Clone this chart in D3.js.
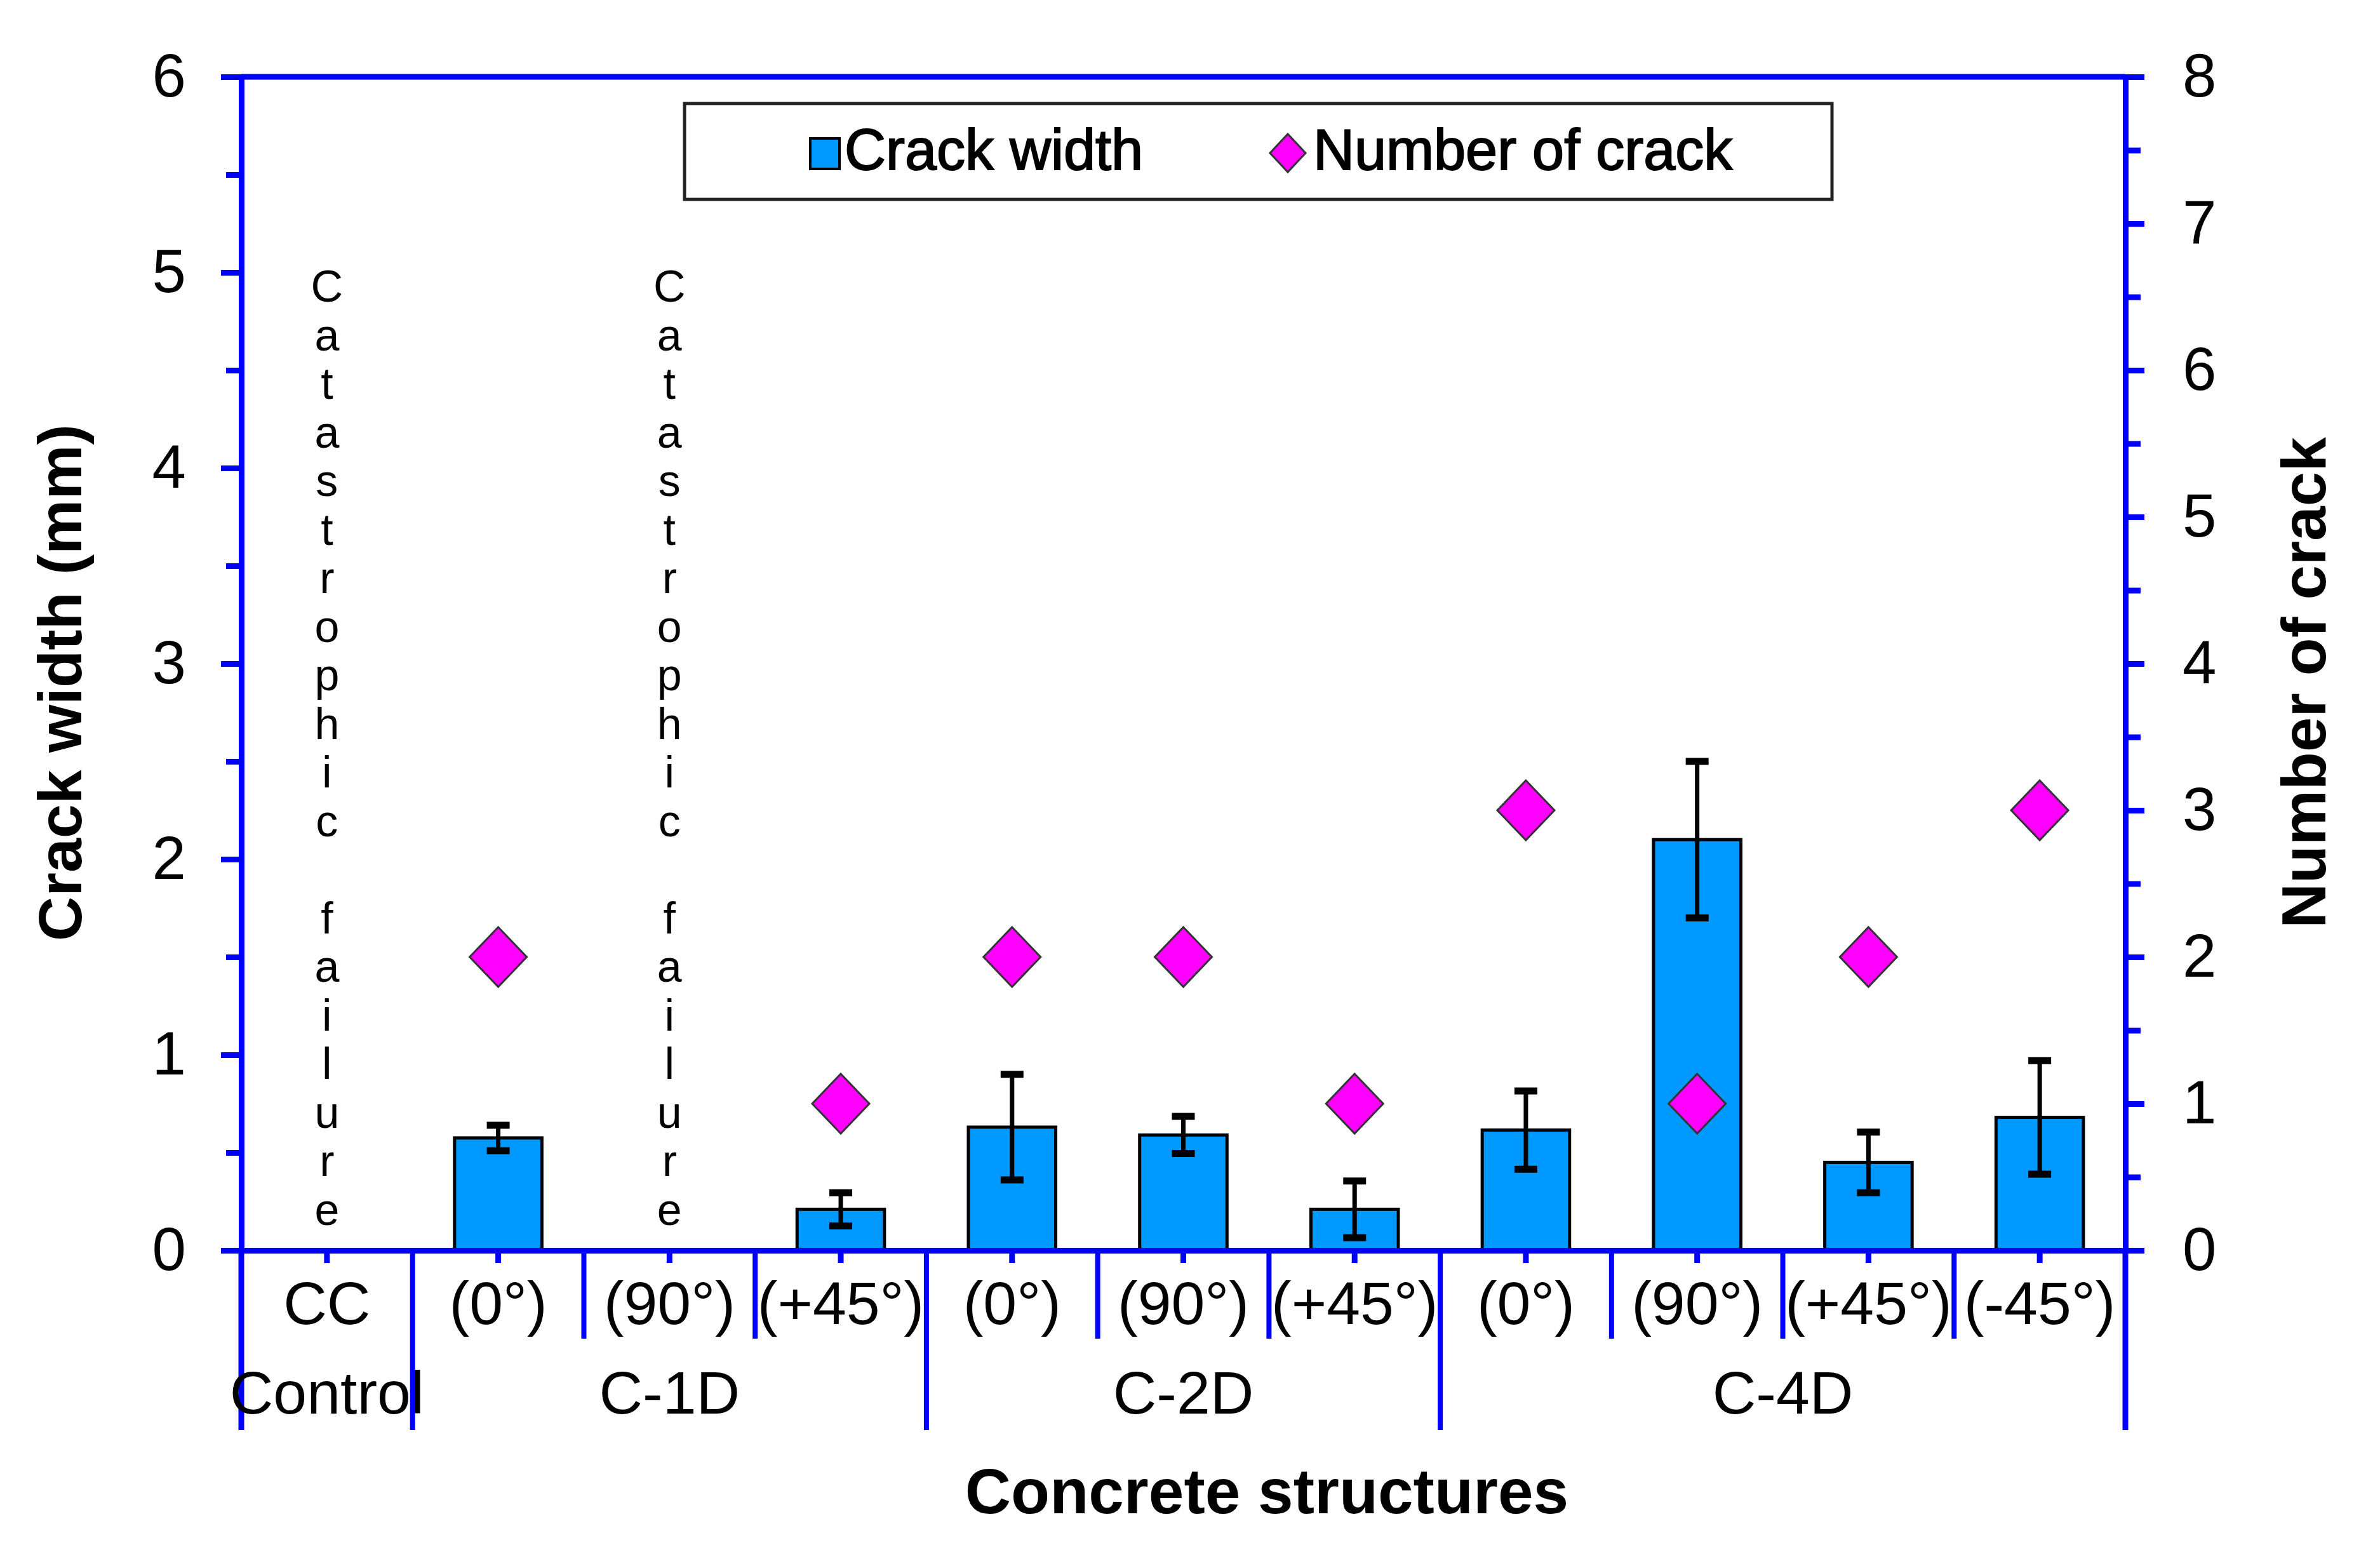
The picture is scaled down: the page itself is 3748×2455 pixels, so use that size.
<!DOCTYPE html>
<html>
<head>
<meta charset="utf-8">
<script src="https://cdn.jsdelivr.net/npm/d3@7"></script>
<style>
  body { margin: 0; background: #fff; }
  text { font-family: Arial, "Liberation Sans", sans-serif; fill: #000; }
</style>
</head>
<body>
<div id="chart"></div>
<script>
// categories along the x axis (level 1) and their groups (level 2)
const categories = ["CC", "(0°)", "(90°)", "(+45°)", "(0°)", "(90°)", "(+45°)", "(0°)", "(90°)", "(+45°)", "(-45°)"];
const groups = ["Control", "C-1D", "C-2D", "C-4D"];
const groupSizes = [1, 3, 3, 4];

// crack width in mm (null = catastrophic failure), with error bar half-length
const crackWidth = [null, 0.575, null, 0.21, 0.63, 0.59, 0.21, 0.615, 2.1, 0.45, 0.68];
const crackWidthErr = [null, 0.065, null, 0.085, 0.27, 0.095, 0.145, 0.2, 0.4, 0.155, 0.29];
// number of cracks (right axis)
const crackNumber = [null, 2, null, 1, 2, 2, 1, 3, 1, 2, 3];

const failedLabel = "Catastrophic failure";
const leftTicks = [0, 1, 2, 3, 4, 5, 6];
const leftMinor = [0.5, 1.5, 2.5, 3.5, 4.5, 5.5];
const rightTicks = [0, 1, 2, 3, 4, 5, 6, 7, 8];
const rightMinor = [0.5, 1.5, 2.5, 3.5, 4.5, 5.5, 6.5, 7.5];

const W = 3748, H = 2455;
const plot = {left: 380, right: 3347, top: 121, bottom: 1969};
const blue = "#0000ff";
const barFill = "#0099ff";
const diamondFill = "#ff00ff";

const svg = d3.select("#chart").append("svg")
    .attr("width", W)
    .attr("height", H);

const x = d3.scaleBand()
    .domain(d3.range(categories.length))
    .range([plot.left, plot.right]);
const yL = d3.scaleLinear().domain([0, 6]).range([plot.bottom, plot.top]);
const yR = d3.scaleLinear().domain([0, 8]).range([plot.bottom, plot.top]);

const bw = x.bandwidth();
const barW = bw * 0.51;
const idx = d3.range(categories.length);
const withBar = idx.filter(i => crackWidth[i] !== null);

function diamond(cx, cy, hw, hh) {
    return `M${cx},${cy - hh}L${cx + hw},${cy}L${cx},${cy + hh}L${cx - hw},${cy}Z`;
}

// top border of the plot area
svg.append("line")
    .attr("x1", plot.left).attr("x2", plot.right)
    .attr("y1", yL(6)).attr("y2", yL(6))
    .attr("stroke", blue).attr("stroke-width", 9);

// bars
svg.append("g").selectAll("rect")
    .data(withBar)
    .join("rect")
    .attr("x", i => x(i) + (bw - barW) / 2)
    .attr("y", i => yL(crackWidth[i]))
    .attr("width", barW)
    .attr("height", i => yL(0) - yL(crackWidth[i]))
    .attr("fill", barFill)
    .attr("stroke", "#000")
    .attr("stroke-width", 5);

// error bars
const err = svg.append("g").attr("stroke", "#000");
err.selectAll("line.stem")
    .data(withBar)
    .join("line")
    .attr("class", "stem")
    .attr("x1", i => x(i) + bw / 2).attr("x2", i => x(i) + bw / 2)
    .attr("y1", i => yL(crackWidth[i] + crackWidthErr[i]))
    .attr("y2", i => yL(crackWidth[i] - crackWidthErr[i]))
    .attr("stroke-width", 7);
[1, -1].forEach(s => {
    err.selectAll("line.cap" + (s > 0 ? "t" : "b"))
        .data(withBar)
        .join("line")
        .attr("class", "cap" + (s > 0 ? "t" : "b"))
        .attr("x1", i => x(i) + bw / 2 - 18).attr("x2", i => x(i) + bw / 2 + 18)
        .attr("y1", i => yL(crackWidth[i] + s * crackWidthErr[i]))
        .attr("y2", i => yL(crackWidth[i] + s * crackWidthErr[i]))
        .attr("stroke-width", 11);
});

// number of crack diamonds
svg.append("g").selectAll("path")
    .data(idx.filter(i => crackNumber[i] !== null))
    .join("path")
    .attr("d", i => diamond(x(i) + bw / 2, yR(crackNumber[i]), 45, 47))
    .attr("fill", diamondFill)
    .attr("stroke", "#333")
    .attr("stroke-width", 3);

// catastrophic failure labels, one letter per line
idx.filter(i => crackWidth[i] === null).forEach(i => {
    const t = svg.append("text")
        .attr("text-anchor", "middle")
        .attr("font-size", 70);
    failedLabel.split("").forEach((ch, k) => {
        t.append("tspan")
            .attr("x", x(i) + bw / 2)
            .attr("y", 475 + k * 76.5)
            .text(ch);
    });
});

function styleAxis(g) {
    g.select(".domain").attr("stroke", blue).attr("stroke-width", 9);
    g.selectAll(".tick line").attr("stroke", blue).attr("stroke-width", 9);
    g.selectAll(".tick text").attr("font-size", 96).attr("fill", "#000");
    g.attr("font-family", null);
}

// left axis
svg.append("g")
    .attr("transform", `translate(${plot.left},0)`)
    .call(d3.axisLeft(yL).tickValues(leftTicks).tickFormat(d3.format("d"))
        .tickSize(32).tickPadding(55).tickSizeOuter(0))
    .call(styleAxis);
svg.append("g")
    .attr("transform", `translate(${plot.left},0)`)
    .call(d3.axisLeft(yL).tickValues(leftMinor).tickSize(24).tickFormat("").tickSizeOuter(0))
    .call(styleAxis)
    .call(g => g.select(".domain").remove());

// right axis
svg.append("g")
    .attr("transform", `translate(${plot.right},0)`)
    .call(d3.axisRight(yR).tickValues(rightTicks).tickFormat(d3.format("d"))
        .tickSize(30).tickPadding(60).tickSizeOuter(0))
    .call(styleAxis);
svg.append("g")
    .attr("transform", `translate(${plot.right},0)`)
    .call(d3.axisRight(yR).tickValues(rightMinor).tickSize(24).tickFormat("").tickSizeOuter(0))
    .call(styleAxis)
    .call(g => g.select(".domain").remove());

// bottom axis with small centre ticks
svg.append("g")
    .attr("transform", `translate(0,${plot.bottom})`)
    .call(d3.axisBottom(x).tickSize(20).tickFormat("").tickSizeOuter(0))
    .call(styleAxis);

// category separators
const groupBounds = [0];
groupSizes.forEach(n => groupBounds.push(groupBounds[groupBounds.length - 1] + n));
const boundX = b => b < categories.length ? x(b) : plot.right;
svg.append("g").selectAll("line")
    .data(d3.range(categories.length + 1))
    .join("line")
    .attr("x1", b => boundX(b)).attr("x2", b => boundX(b))
    .attr("y1", plot.bottom)
    .attr("y2", b => groupBounds.includes(b) ? 2252 : 2108)
    .attr("stroke", blue)
    .attr("stroke-width", b => (b === 0 || b === categories.length) ? 9 : 8);

// category labels
svg.append("g").selectAll("text")
    .data(idx)
    .join("text")
    .attr("x", i => x(i) + bw / 2)
    .attr("y", 2085)
    .attr("text-anchor", "middle")
    .attr("font-size", 95)
    .text(i => categories[i]);

// group labels
svg.append("g").selectAll("text")
    .data(groups)
    .join("text")
    .attr("x", (g, k) => (boundX(groupBounds[k]) + boundX(groupBounds[k + 1])) / 2)
    .attr("y", 2226)
    .attr("text-anchor", "middle")
    .attr("font-size", 95)
    .text(g => g);

// axis titles
svg.append("text")
    .attr("x", 1995).attr("y", 2383)
    .attr("text-anchor", "middle")
    .attr("font-size", 100).attr("font-weight", "bold")
    .text("Concrete structures");
svg.append("text")
    .attr("transform", "translate(128,1075) rotate(-90)")
    .attr("text-anchor", "middle")
    .attr("font-size", 97).attr("font-weight", "bold")
    .text("Crack width (mm)");
svg.append("text")
    .attr("transform", "translate(3662,1075) rotate(-90)")
    .attr("text-anchor", "middle")
    .attr("font-size", 98).attr("font-weight", "bold")
    .text("Number of crack");

// legend
const lg = svg.append("g");
lg.append("rect")
    .attr("x", 1078).attr("y", 163)
    .attr("width", 1807).attr("height", 151)
    .attr("fill", "#fff").attr("stroke", "#222").attr("stroke-width", 5);
lg.append("rect")
    .attr("x", 1276).attr("y", 218)
    .attr("width", 46).attr("height", 48)
    .attr("fill", barFill).attr("stroke", "#000").attr("stroke-width", 4);
lg.append("text")
    .attr("x", 1330).attr("y", 267)
    .attr("font-size", 90)
    .attr("stroke", "#000").attr("stroke-width", 2)
    .text("Crack width");
lg.append("path")
    .attr("d", diamond(2028, 241, 28, 30))
    .attr("fill", diamondFill).attr("stroke", "#333").attr("stroke-width", 3);
lg.append("text")
    .attr("x", 2068).attr("y", 267)
    .attr("font-size", 90)
    .attr("stroke", "#000").attr("stroke-width", 2)
    .text("Number of crack");
</script>
</body>
</html>
